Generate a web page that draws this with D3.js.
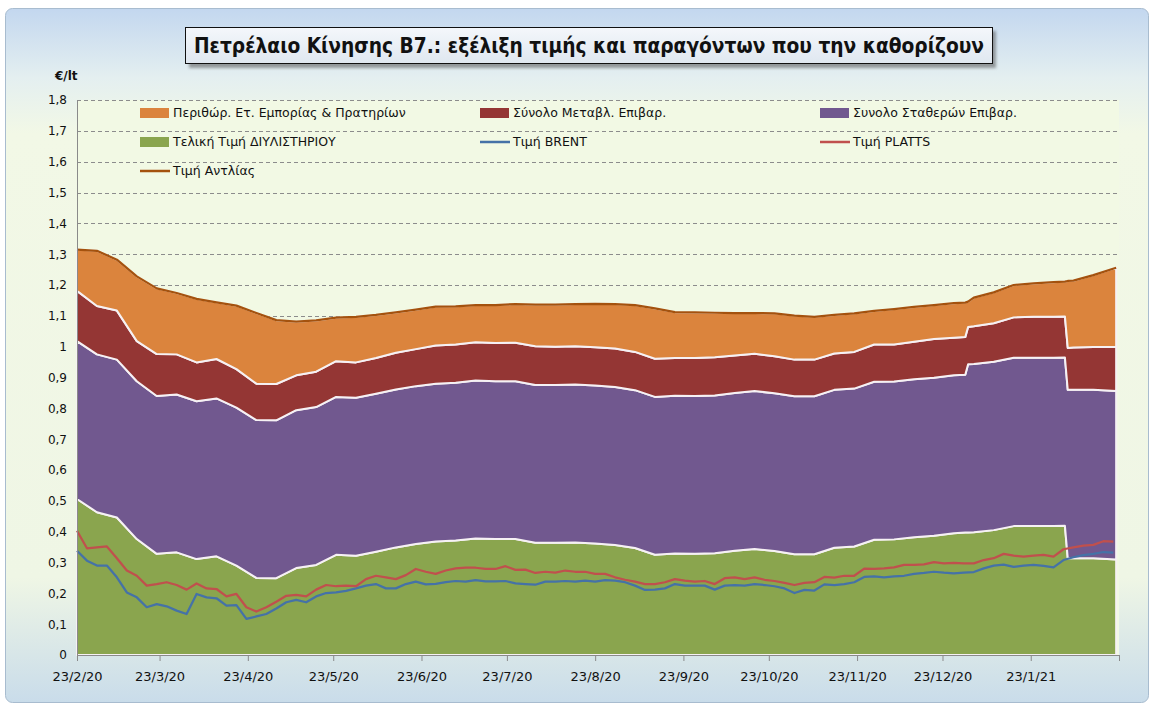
<!DOCTYPE html>
<html>
<head>
<meta charset="utf-8">
<title>Πετρέλαιο Κίνησης Β7</title>
<script src="https://cdn.jsdelivr.net/npm/d3@7/dist/d3.min.js"></script>
<style>
body { margin: 0; background: #fff; }
text { font-family: "DejaVu Sans", Verdana, sans-serif; fill: #111; }
.title { font-family: "DejaVu Sans Condensed", "Liberation Sans Narrow", "DejaVu Sans", sans-serif; font-stretch: condensed; font-weight: bold; font-size: 21px; }
</style>
</head>
<body>
<div id="chart"></div>
<script>
// weekly points for the stacked price components (extra days mark the two jumps)
const stackDates = ["2020-02-23","2020-03-01","2020-03-08","2020-03-15","2020-03-22","2020-03-29","2020-04-05","2020-04-12","2020-04-19","2020-04-26",
  "2020-05-03","2020-05-10","2020-05-17","2020-05-24","2020-05-31","2020-06-07","2020-06-14","2020-06-21","2020-06-28","2020-07-05",
  "2020-07-12","2020-07-19","2020-07-26","2020-08-02","2020-08-09","2020-08-16","2020-08-23","2020-08-30","2020-09-06","2020-09-13",
  "2020-09-20","2020-09-27","2020-10-04","2020-10-11","2020-10-18","2020-10-25","2020-11-01","2020-11-08","2020-11-15","2020-11-22",
  "2020-11-29","2020-12-06","2020-12-13","2020-12-20","2020-12-27","2020-12-31","2021-01-01","2021-01-03","2021-01-10","2021-01-17",
  "2021-01-24","2021-01-31","2021-02-04","2021-02-05","2021-02-07","2021-02-14","2021-02-22"];

const refinery = [0.506,0.463,0.446,0.376,0.328,0.333,0.311,0.320,0.290,0.250,
  0.249,0.282,0.292,0.325,0.322,0.335,0.349,0.360,0.368,0.371,
  0.378,0.376,0.376,0.364,0.364,0.365,0.362,0.357,0.347,0.325,
  0.329,0.328,0.330,0.338,0.344,0.337,0.327,0.327,0.348,0.352,
  0.374,0.375,0.382,0.387,0.395,0.397,0.397,0.398,0.405,0.418,
  0.418,0.418,0.419,0.314,0.314,0.314,0.310];

const fixedTax = [0.512,0.512,0.512,0.512,0.512,0.512,0.512,0.512,0.512,0.512,
  0.512,0.512,0.512,0.512,0.512,0.512,0.512,0.512,0.512,0.512,
  0.512,0.512,0.512,0.512,0.512,0.512,0.512,0.512,0.512,0.512,
  0.512,0.512,0.512,0.512,0.512,0.512,0.512,0.512,0.512,0.512,
  0.512,0.512,0.512,0.512,0.512,0.512,0.546,0.546,0.546,0.546,
  0.546,0.546,0.546,0.546,0.546,0.546,0.546];

const varTax = [0.163,0.157,0.159,0.130,0.136,0.130,0.126,0.128,0.125,0.118,
  0.118,0.113,0.115,0.116,0.115,0.116,0.119,0.120,0.124,0.124,
  0.124,0.124,0.125,0.125,0.124,0.124,0.124,0.125,0.124,0.124,
  0.122,0.123,0.124,0.121,0.121,0.120,0.119,0.119,0.118,0.119,
  0.121,0.120,0.122,0.126,0.122,0.122,0.121,0.122,0.125,0.131,
  0.133,0.133,0.133,0.136,0.137,0.139,0.143];

const retailMargin = [0.134,0.179,0.165,0.210,0.213,0.199,0.206,0.184,0.206,0.229,
  0.207,0.174,0.166,0.141,0.148,0.140,0.131,0.128,0.126,0.124,
  0.121,0.123,0.125,0.135,0.136,0.137,0.141,0.144,0.152,0.163,
  0.149,0.148,0.144,0.138,0.132,0.139,0.143,0.139,0.125,0.125,
  0.109,0.115,0.113,0.110,0.112,0.112,0.082,0.093,0.100,0.105,
  0.108,0.112,0.113,0.217,0.217,0.233,0.257];

const pumpPrice = [1.315,1.311,1.282,1.228,1.189,1.174,1.155,1.144,1.133,1.109,
  1.086,1.081,1.085,1.094,1.097,1.103,1.111,1.120,1.130,1.131,
  1.135,1.135,1.138,1.136,1.136,1.138,1.139,1.138,1.135,1.124,
  1.112,1.111,1.110,1.109,1.109,1.108,1.101,1.097,1.103,1.108,
  1.116,1.122,1.129,1.135,1.141,1.143,1.146,1.159,1.176,1.200,
  1.205,1.209,1.211,1.213,1.214,1.232,1.256];

// crude / product quotes, twice a week (every 84 hours) from the start date
const lineStart = "2020-02-23";
const lineStepHours = 84;
const brent = [0.338,0.306,0.290,0.290,0.252,0.203,0.187,0.155,0.165,0.158,
  0.144,0.133,0.198,0.187,0.184,0.160,0.162,0.117,0.125,0.133,
  0.151,0.171,0.179,0.171,0.190,0.201,0.203,0.208,0.216,0.225,
  0.230,0.216,0.216,0.230,0.238,0.229,0.231,0.236,0.240,0.238,
  0.243,0.239,0.239,0.240,0.232,0.230,0.228,0.238,0.238,0.240,
  0.238,0.241,0.238,0.243,0.241,0.236,0.225,0.211,0.212,0.216,
  0.230,0.225,0.225,0.225,0.212,0.225,0.227,0.225,0.230,0.227,
  0.223,0.216,0.201,0.211,0.209,0.229,0.227,0.230,0.236,0.253,
  0.255,0.252,0.255,0.257,0.263,0.266,0.270,0.267,0.265,0.267,
  0.269,0.281,0.290,0.293,0.286,0.290,0.292,0.289,0.284,0.308,
  0.317,0.324,0.328,0.334,0.332];
const platts = [0.403,0.346,0.349,0.352,0.314,0.274,0.257,0.225,0.230,0.236,
  0.227,0.212,0.232,0.216,0.214,0.190,0.198,0.155,0.141,0.155,
  0.173,0.192,0.195,0.190,0.212,0.227,0.223,0.225,0.223,0.246,
  0.257,0.252,0.246,0.259,0.279,0.270,0.263,0.274,0.281,0.283,
  0.283,0.279,0.279,0.288,0.276,0.277,0.266,0.270,0.267,0.274,
  0.270,0.270,0.263,0.263,0.252,0.244,0.238,0.230,0.230,0.236,
  0.246,0.241,0.238,0.240,0.230,0.249,0.252,0.246,0.252,0.244,
  0.240,0.234,0.227,0.234,0.236,0.253,0.251,0.257,0.257,0.280,
  0.279,0.281,0.284,0.292,0.292,0.294,0.301,0.297,0.299,0.297,
  0.297,0.308,0.314,0.328,0.322,0.319,0.322,0.325,0.319,0.343,
  0.349,0.355,0.357,0.369,0.368];

const monthTicks = ["2020-02-23","2020-03-23","2020-04-23","2020-05-23","2020-06-23","2020-07-23","2020-08-23",
  "2020-09-23","2020-10-23","2020-11-23","2020-12-23","2021-01-23","2021-02-23"];

const titleText = "Πετρέλαιο Κίνησης Β7.: εξέλιξη τιμής και παραγόντων που την καθορίζουν";
const unitLabel = "€/lt";
const legendLabels = {
  retailMargin: "Περιθώρ. Ετ. Εμπορίας & Πρατηρίων",
  varTax: "Σύνολο Μεταβλ. Επιβαρ.",
  fixedTax: "Συνολο Σταθερών Επιβαρ.",
  refinery: "Τελική Τιμή ΔΙΥΛΙΣΤΗΡΙΟΥ",
  brent: "Τιμή BRENT",
  platts: "Τιμή PLATTS",
  pump: "Τιμή Αντλίας"
};

const colors = {
  refinery: "#8aa54e", fixedTax: "#71588f", varTax: "#943634", retailMargin: "#db843d",
  brent: "#4572a7", platts: "#c0504d", pump: "#a4520e"
};

/////////////////////////////

const W = 1154, H = 707;
const plot = {left: 77, right: 1119, top: 100, bottom: 655};
const parse = d3.timeParse("%Y-%m-%d");

const svg = d3.select("#chart").append("svg")
    .attr("width", W).attr("height", H);

const defs = svg.append("defs");
const bgGrad = defs.append("linearGradient").attr("id", "bgGrad")
    .attr("x1", 0).attr("y1", 0).attr("x2", 0).attr("y2", 1);
[["0%", "#c3d7ef"], ["10%", "#e4eff0"], ["18%", "#f2f8e6"], ["82%", "#eff6e5"], ["100%", "#c9dcea"]]
    .forEach(s => bgGrad.append("stop").attr("offset", s[0]).attr("stop-color", s[1]));
const titleGrad = defs.append("linearGradient").attr("id", "titleGrad")
    .attr("x1", 0).attr("y1", 0).attr("x2", 0).attr("y2", 1);
[["0%", "#f4f7fb"], ["100%", "#dfe7f0"]]
    .forEach(s => titleGrad.append("stop").attr("offset", s[0]).attr("stop-color", s[1]));
defs.append("filter").attr("id", "blur").append("feGaussianBlur").attr("stdDeviation", 1.5);

// frame
svg.append("rect")
    .attr("x", 5.5).attr("y", 8.5).attr("width", 1143).attr("height", 694).attr("rx", 7)
    .attr("fill", "url(#bgGrad)").attr("stroke", "#a8bccf");

svg.append("rect")
    .attr("x", plot.left).attr("y", plot.top)
    .attr("width", plot.right - plot.left).attr("height", plot.bottom - plot.top)
    .attr("fill", "#f2f9e4");

// title box
svg.append("rect")
    .attr("x", 189).attr("y", 31).attr("width", 807).attr("height", 37)
    .attr("fill", "#555").attr("opacity", 0.55).attr("filter", "url(#blur)");
svg.append("rect")
    .attr("x", 185.5).attr("y", 27.5).attr("width", 807).attr("height", 36)
    .attr("fill", "url(#titleGrad)").attr("stroke", "#111");
svg.append("text").attr("class", "title")
    .attr("x", 589).attr("y", 53).attr("text-anchor", "middle")
    .attr("textLength", 790).attr("lengthAdjust", "spacingAndGlyphs")
    .text(titleText);

// scales
const x = d3.scaleTime()
    .domain([parse(monthTicks[0]), parse(monthTicks[monthTicks.length - 1])])
    .range([plot.left, plot.right]);
const y = d3.scaleLinear().domain([0, 1.8]).range([plot.bottom, plot.top]);

const fmt = d3.formatLocale({decimal: ",", thousands: ".", grouping: [3], currency: ["", "€"]}).format(".2~f");

// grid
svg.append("g").selectAll("line")
    .data(y.ticks(18).filter(d => d > 0))
    .join("line")
    .attr("x1", plot.left).attr("x2", plot.right)
    .attr("y1", d => Math.round(y(d)) + 0.5).attr("y2", d => Math.round(y(d)) + 0.5)
    .attr("stroke", "#8c8c8c").attr("stroke-dasharray", "4,3");

// stacked areas
const rows = stackDates.map((d, i) => ({
    date: parse(d), refinery: refinery[i], fixedTax: fixedTax[i],
    varTax: varTax[i], retailMargin: retailMargin[i]
}));
const keys = ["refinery", "fixedTax", "varTax", "retailMargin"];
const series = d3.stack().keys(keys)(rows);

const area = d3.area()
    .x(d => x(d.data.date))
    .y0(d => y(d[0]))
    .y1(d => y(d[1]));

svg.append("g").selectAll("path")
    .data(series)
    .join("path")
    .attr("d", area)
    .attr("fill", d => colors[d.key])
    .attr("stroke", "#f6f1f4")
    .attr("stroke-width", 2)
    .attr("stroke-linejoin", "round");

// lines
const lineDates = brent.map((_, i) => d3.timeHour.offset(parse(lineStart), i * lineStepHours));
const line = d3.line().x(d => x(d[0])).y(d => y(d[1]));

const lineData = [
    {key: "brent", pts: brent.map((v, i) => [lineDates[i], v])},
    {key: "platts", pts: platts.map((v, i) => [lineDates[i], v])},
    {key: "pump", pts: pumpPrice.map((v, i) => [parse(stackDates[i]), v])}
];

svg.append("g").selectAll("path")
    .data(lineData)
    .join("path")
    .attr("d", d => line(d.pts))
    .attr("fill", "none")
    .attr("stroke", d => colors[d.key])
    .attr("stroke-width", 2.25)
    .attr("stroke-linejoin", "round");

// axes
const xAxis = svg.append("g")
    .attr("transform", `translate(0,${plot.bottom})`)
    .call(d3.axisBottom(x)
        .tickValues(monthTicks.map(parse))
        .tickSize(6).tickSizeOuter(0).tickPadding(11)
        .tickFormat((d, i) => i === monthTicks.length - 1 ? "" : d3.timeFormat("%-d/%-m/%y")(d)));
xAxis.select(".domain").attr("stroke", "#8a8a8a");
xAxis.selectAll(".tick line").attr("stroke", "#8a8a8a");
xAxis.selectAll("text").style("font-size", "13px").attr("fill", "#111");

const yAxis = svg.append("g")
    .attr("transform", `translate(${plot.left},0)`)
    .call(d3.axisLeft(y).ticks(18).tickSize(0).tickPadding(10).tickFormat(fmt));
yAxis.select(".domain").attr("stroke", "#8a8a8a");
yAxis.selectAll("text").style("font-size", "12px").attr("fill", "#111");

svg.append("text")
    .attr("x", 55).attr("y", 80)
    .style("font-size", "12px").style("font-weight", "bold")
    .text(unitLabel);

// legend
const legendItems = [
    {key: "retailMargin", type: "box", col: 0, row: 0},
    {key: "varTax", type: "box", col: 1, row: 0},
    {key: "fixedTax", type: "box", col: 2, row: 0},
    {key: "refinery", type: "box", col: 0, row: 1},
    {key: "brent", type: "line", col: 1, row: 1},
    {key: "platts", type: "line", col: 2, row: 1},
    {key: "pump", type: "line", col: 0, row: 2}
];
const colX = [140, 480, 820], rowY = [113, 142, 171];

const lg = svg.append("g").selectAll("g")
    .data(legendItems)
    .join("g")
    .attr("transform", d => `translate(${colX[d.col]},${rowY[d.row]})`);

lg.filter(d => d.type === "box").append("rect")
    .attr("x", 0).attr("y", -5).attr("width", 29).attr("height", 10)
    .attr("fill", d => colors[d.key]);
lg.filter(d => d.type === "line").append("line")
    .attr("x1", 0).attr("x2", 30).attr("y1", 0).attr("y2", 0)
    .attr("stroke", d => colors[d.key]).attr("stroke-width", 2.5);
lg.append("text")
    .attr("x", 33).attr("y", 0).attr("dy", "0.35em")
    .style("font-size", "12.5px")
    .text(d => legendLabels[d.key]);
</script>
</body>
</html>
